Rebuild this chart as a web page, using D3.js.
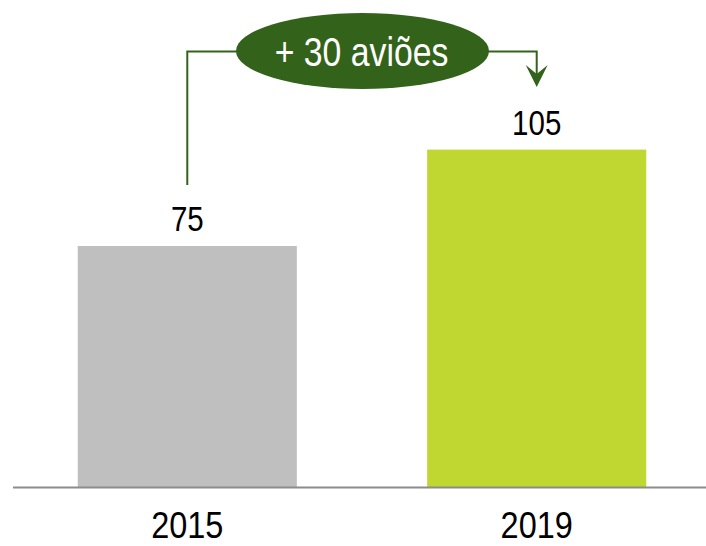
<!DOCTYPE html>
<html>
<head>
<meta charset="utf-8">
<script src="https://cdn.jsdelivr.net/npm/d3@7"></script>
<style>
  html, body { margin: 0; padding: 0; background: #fff; }
  svg { display: block; }
  text { font-family: "Liberation Sans", Arial, sans-serif; }
</style>
</head>
<body>
<svg id="chart" width="706" height="546"></svg>
<script>
const categories = ["2015", "2019"];
const values = [75, 105];
const barColors = ["#BFBFBF", "#C0D731"];
const annotationUnit = "aviões";

const svg = d3.select("#chart");
const NARROW = 0.82;

const x = d3.scaleBand().domain(categories).range([18, 706]).paddingInner(0.373).paddingOuter(0.171);
const y = d3.scaleLinear().domain([0, 150]).range([487, 5]);

// bars
svg.selectAll("rect.bar").data(categories).enter().append("rect")
  .attr("class", "bar")
  .attr("x", d => x(d))
  .attr("y", (d, i) => y(values[i]))
  .attr("width", x.bandwidth())
  .attr("height", (d, i) => y(0) - y(values[i]))
  .attr("fill", (d, i) => barColors[i]);

// baseline
svg.append("line")
  .attr("x1", 13).attr("x2", 706)
  .attr("y1", y(0) + 0.5).attr("y2", y(0) + 0.5)
  .attr("stroke", "#8C8C8C").attr("stroke-width", 2.2);

// category labels (narrow)
svg.selectAll("text.cat").data(categories).enter().append("text")
  .attr("class", "cat")
  .attr("transform", d => `translate(${x(d) + x.bandwidth() / 2},538) scale(${NARROW * 1.07},1)`)
  .attr("text-anchor", "middle")
  .attr("font-size", 37)
  .attr("fill", "#000")
  .text(d => d);

// value labels
svg.selectAll("text.val").data(categories).enter().append("text")
  .attr("class", "val")
  .attr("transform", (d, i) => `translate(${x(d) + x.bandwidth() / 2},${y(values[i]) - 15}) scale(${NARROW},1)`)
  .attr("text-anchor", "middle")
  .attr("font-size", 36)
  .attr("fill", "#000")
  .text((d, i) => values[i]);

// annotation connector
const green = "#33631A";
const cx0 = x(categories[0]) + x.bandwidth() / 2;
const cx1 = x(categories[1]) + x.bandwidth() / 2;
const lineY = 51.5;
const ex = 362.5, ey = 51, erx = 126.5, ery = 38;
const startY = y(values[0]) - 61;
const tipY = 87;

svg.append("path")
  .attr("d", `M${cx0},${startY} V${lineY} H${ex - erx + 2}`)
  .attr("fill", "none").attr("stroke", green).attr("stroke-width", 2);
svg.append("path")
  .attr("d", `M${ex + erx - 2},${lineY} H${cx1} V${tipY - 12}`)
  .attr("fill", "none").attr("stroke", green).attr("stroke-width", 2);
svg.append("path")
  .attr("d", `M${cx1},${tipY} L${cx1 - 11},${tipY - 22} L${cx1},${tipY - 13} L${cx1 + 11},${tipY - 22} Z`)
  .attr("fill", green);

svg.append("ellipse")
  .attr("cx", ex).attr("cy", ey).attr("rx", erx).attr("ry", ery)
  .attr("fill", green);

svg.append("text")
  .attr("transform", `translate(${ex - 1},66) scale(${NARROW * 1.03},1)`)
  .attr("text-anchor", "middle")
  .attr("font-size", 40)
  .attr("fill", "#fff")
  .text(`+ ${values[1] - values[0]} ${annotationUnit}`);
</script>
</body>
</html>
